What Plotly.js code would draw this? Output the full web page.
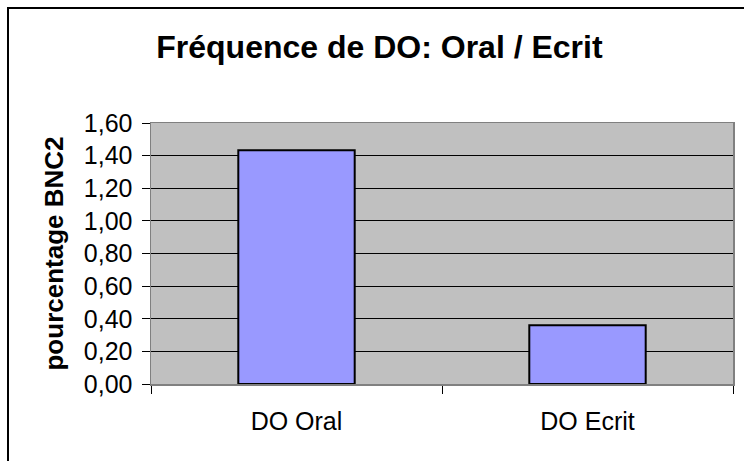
<!DOCTYPE html>
<html>
<head>
<meta charset="utf-8">
<script src="https://cdn.plot.ly/plotly-3.0.1.min.js"></script>
<style>
  html, body { margin: 0; padding: 0; background: #fff; }
  #wrap { position: relative; width: 744px; height: 461px; overflow: hidden; }
  #chart { position: absolute; left: 0; top: 0; width: 744px; height: 461px; }
  #frame { position: absolute; left: 7px; top: 7px; width: 800px; height: 600px; border: 2px solid #000; pointer-events: none; }
</style>
</head>
<body>
<div id="wrap">
  <div id="chart"></div>
  <div id="frame"></div>
</div>
<script>
const categories = ["DO Oral", "DO Ecrit"];
const values = [1.433, 0.36];
const yTickValues = [0, 0.2, 0.4, 0.6, 0.8, 1.0, 1.2, 1.4, 1.6];
const chartTitle = "Fréquence de DO: Oral / Ecrit";
const yTitle = "pourcentage BNC2";

const font = "Arial, 'Liberation Sans', sans-serif";

const trace = {
  type: "bar",
  x: categories,
  y: values,
  marker: { color: "#9999FF", line: { color: "#000000", width: 2 } },
  hoverinfo: "skip"
};

const layout = {
  width: 744,
  height: 461,
  margin: { l: 151, r: 11, t: 123, b: 77 },
  paper_bgcolor: "rgba(0,0,0,0)",
  plot_bgcolor: "#C0C0C0",
  separators: ", ",
  bargap: 0.6,
  showlegend: false,
  title: {
    text: "<b>" + chartTitle + "</b>",
    font: { family: font, size: 32, color: "#000" },
    x: 0.51, xanchor: "center",
    y: 0.898, yanchor: "middle", yref: "container"
  },
  xaxis: {
    type: "category",
    tickson: "boundaries",
    ticks: "outside",
    ticklen: 8,
    tickcolor: "#000",
    tickwidth: 1,
    showgrid: false,
    showline: true,
    linecolor: "#808080",
    linewidth: 1.5,
    mirror: true,
    tickfont: { family: font, size: 25, color: "#000" },
    ticklabelstandoff: 14,
    zeroline: false
  },
  yaxis: {
    range: [0, 1.6],
    tickvals: yTickValues,
    tickformat: ".2f",
    ticks: "outside",
    ticklen: 8,
    tickcolor: "#000",
    tickwidth: 1,
    showgrid: true,
    gridcolor: "#000",
    gridwidth: 1,
    showline: true,
    linecolor: "#808080",
    linewidth: 1.5,
    mirror: true,
    zeroline: false,
    tickfont: { family: font, size: 25, color: "#000" },
    ticklabelstandoff: 4,
    title: {
      text: "<b>" + yTitle + "</b>",
      font: { family: font, size: 26, color: "#000" },
      standoff: 12
    }
  }
};

Plotly.newPlot("chart", [trace], layout, { staticPlot: true, displayModeBar: false });
</script>
</body>
</html>
